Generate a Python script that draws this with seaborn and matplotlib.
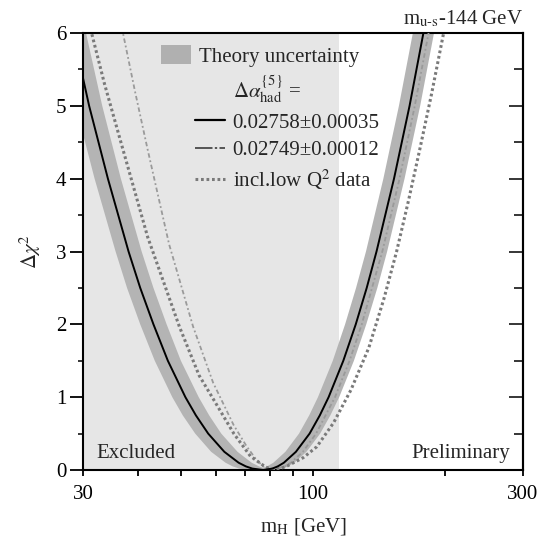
import matplotlib
matplotlib.use('Agg')
import matplotlib.pyplot as plt
import seaborn as sns
from matplotlib.lines import Line2D
from matplotlib.patches import Patch
from matplotlib.ticker import FixedLocator, NullFormatter

sns.set_theme(style='ticks')
plt.rcParams['font.family'] = ['Liberation Serif', 'DejaVu Serif']
plt.rcParams['mathtext.fontset'] = 'stix'

# ---------------- data ----------------
excluded_limit = 114.4      # GeV, LEP direct search limit
x_range = [30, 300]
y_range = [0, 6]

# central fit: da_had = 0.02758 +- 0.00035
solid_x = [27.2, 28.4, 30.9, 34.1, 38.0, 40.4, 43.3, 46.7, 51.2, 54.1, 57.7, 62.8, 67.7,
           70.3, 72.7, 77.0, 80.8, 83.1, 85.8, 91.4, 98.2, 103.6, 108.5, 117.2, 125.1,
           132.5, 139.5, 152.9, 165.9, 178.4, 184.7]
solid_y = [6.5, 6.0, 5.0, 4.0, 3.0, 2.5, 2.0, 1.5, 1.0, 0.75, 0.5, 0.25, 0.1,
           0.05, 0.02, 0.0, 0.02, 0.05, 0.1, 0.25, 0.5, 0.75, 1.0, 1.5, 2.0,
           2.5, 3.0, 4.0, 5.0, 6.0, 6.5]

# theory uncertainty band: outer (lower) edge, then inner (upper) edge
band_lower_x = [25.4, 26.5, 28.8, 31.8, 35.5, 37.7, 40.4, 43.6, 47.8, 50.5, 53.9, 58.6, 63.2,
                65.6, 67.9, 71.9, 81.4, 85.4, 87.8, 90.7, 96.6, 103.8, 109.5, 114.7, 123.9,
                132.2, 140.1, 147.5, 161.6, 175.4, 188.6, 195.2]
band_lower_y = [6.5, 6.0, 5.0, 4.0, 3.0, 2.5, 2.0, 1.5, 1.0, 0.75, 0.5, 0.25, 0.1,
                0.05, 0.02, 0.0, 0.0, 0.02, 0.05, 0.1, 0.25, 0.5, 0.75, 1.0, 1.5,
                2.0, 2.5, 3.0, 4.0, 5.0, 6.0, 6.5]
band_upper_x = [29.1, 30.4, 33.1, 36.5, 40.7, 43.3, 46.4, 50.0, 54.9, 58.0, 61.8, 67.3, 72.5,
                75.3, 77.0, 78.6, 81.2, 86.5, 92.9, 98.0, 102.6, 110.9, 118.3, 125.3,
                132.0, 144.6, 156.9, 168.8, 174.7]
band_upper_y = [6.5, 6.0, 5.0, 4.0, 3.0, 2.5, 2.0, 1.5, 1.0, 0.75, 0.5, 0.25, 0.1,
                0.05, 0.03, 0.05, 0.1, 0.25, 0.5, 0.75, 1.0, 1.5, 2.0, 2.5,
                3.0, 4.0, 5.0, 6.0, 6.5]

# da_had = 0.02749 +- 0.00012
alt_x = [35.9, 36.9, 39.3, 42.0, 47.0, 53.3, 59.2, 65.9, 70.5, 74.3, 77.5, 80.0,
         86.3, 89.0, 94.8, 101.6, 112.2, 121.1, 129.1, 143.8, 157.4, 170.5, 183.3, 189.6]
alt_y = [6.4, 6.0, 5.2, 4.4, 3.1, 1.97, 1.2, 0.62, 0.33, 0.14, 0.035, 0.0,
         0.05, 0.1, 0.25, 0.5, 1.0, 1.5, 2.0, 3.0, 4.0, 5.0, 6.0, 6.5]

# incl. low Q^2 data
lowq_x = [30.3, 31.3, 33.5, 36.9, 42.0, 49.6, 55.0, 60.0, 66.0, 72.0, 78.0, 82.0,
          87.0, 95.0, 102.0, 111.4, 122.0, 134.0, 145.0, 155.0, 165.0, 175.0, 186.0, 197.6, 203.0]
lowq_y = [6.35, 6.0, 5.3, 4.4, 3.2, 1.97, 1.3, 0.92, 0.5, 0.19, 0.04, 0.0,
          0.05, 0.17, 0.32, 0.65, 1.1, 1.68, 2.35, 3.0, 3.7, 4.4, 5.15, 5.95, 6.3]

x_major = [30, 100, 300]
x_minor = [40, 50, 60, 70, 80, 90, 200]
y_major = [0, 1, 2, 3, 4, 5, 6]
y_minor = [0.5, 1.5, 2.5, 3.5, 4.5, 5.5]

label_band = 'Theory uncertainty'
label_da = r'$\Delta\alpha^{\{5\}}_{\rm had}$ ='
label_solid = '0.02758±0.00035'
label_alt = '0.02749±0.00012'
label_lowq = r'incl.low Q$^2$ data'

# ---------------- figure ----------------
FS = 15
fig = plt.figure(figsize=(5.39, 5.42), dpi=100)
ax = fig.add_axes([0.1549, 0.1328, 0.8145, 0.8063])
ax.set_facecolor('white')

ax.axvspan(x_range[0], excluded_limit, color='#e6e6e6', lw=0, zorder=0)

poly_x = band_lower_x + band_upper_x[::-1]
poly_y = band_lower_y + band_upper_y[::-1]
ax.fill(poly_x, poly_y, color='#b4b4b4', lw=0, zorder=1)

sns.lineplot(x=alt_x, y=alt_y, ax=ax, color='#9a9a9a', linewidth=1.3,
             linestyle=(0, (2.5, 1.5, 1, 1.5)), sort=False, estimator=None, zorder=3)
sns.lineplot(x=lowq_x, y=lowq_y, ax=ax, color='#7a7a7a', linewidth=2.2,
             linestyle=(0, (0.9, 0.9)), sort=False, estimator=None, zorder=3)
sns.lineplot(x=solid_x, y=solid_y, ax=ax, color='black', linewidth=1.4,
             sort=False, estimator=None, zorder=4)

ax.set_xscale('log')
ax.set_xlim(x_range)
ax.set_ylim(y_range)
ax.xaxis.set_major_locator(FixedLocator(x_major))
ax.xaxis.set_minor_locator(FixedLocator(x_minor))
ax.set_xticklabels([str(v) for v in x_major])
ax.xaxis.set_minor_formatter(NullFormatter())
ax.yaxis.set_major_locator(FixedLocator(y_major))
ax.yaxis.set_minor_locator(FixedLocator(y_minor))
ax.tick_params(axis='x', which='both', direction='out', length=4.5, width=1.3,
               labelsize=FS, colors='black', pad=6)
ax.tick_params(axis='y', which='major', direction='out', length=9.5, width=1.3,
               labelsize=FS, colors='black', pad=3)
ax.tick_params(axis='y', which='minor', direction='out', length=3.8, width=1.3)
for s in ax.spines.values():
    s.set_linewidth(1.5)
    s.set_color('black')

sec = ax.secondary_yaxis('right')
sec.yaxis.set_major_locator(FixedLocator(y_major))
sec.yaxis.set_minor_locator(FixedLocator(y_minor))
sec.yaxis.set_major_formatter(NullFormatter())
sec.tick_params(axis='y', which='major', direction='in', length=10, width=1.3)
sec.tick_params(axis='y', which='minor', direction='in', length=6.5, width=1.3)
sec.spines['right'].set_linewidth(1.5)

ax.set_xlabel(r'm$_{\rm H}$ [GeV]', fontsize=FS, labelpad=9)
ax.set_ylabel(r'$\Delta\chi^2$', fontsize=FS, labelpad=9)

ax.text(0.03, 0.027, 'Excluded', transform=ax.transAxes, fontsize=FS, ha='left', va='baseline')
ax.text(0.9715, 0.027, 'Preliminary', transform=ax.transAxes, fontsize=FS, ha='right', va='baseline')
ax.text(1.0, 1.008, r'm$_{\rm u\text{-}s}$-144 GeV', transform=ax.transAxes, fontsize=FS,
        ha='right', va='bottom')

# legends
leg1 = ax.legend(handles=[Patch(facecolor='#b0b0b0', edgecolor='none')], labels=[label_band],
                 loc='upper left', bbox_to_anchor=(0.168, 0.981), frameon=False,
                 fontsize=FS, handlelength=1.4, handleheight=1.0, handletextpad=0.4,
                 borderpad=0.2, borderaxespad=0)
ax.add_artist(leg1)
h_blank = Line2D([], [], color='none')
h_solid = Line2D([], [], color='black', lw=1.6)
h_alt = Line2D([], [], color='#555555', lw=1.4, linestyle=(0, (9, 1.2, 1.2, 1.2)))
h_lowq = Line2D([], [], color='#7a7a7a', lw=2.2, linestyle=(0, (0.9, 0.9)))
leg2 = ax.legend(handles=[h_blank, h_solid, h_alt, h_lowq],
                 labels=[label_da, label_solid, label_alt, label_lowq],
                 loc='upper left', bbox_to_anchor=(0.245, 0.917), frameon=False,
                 fontsize=FS, handlelength=1.45, handletextpad=0.35, labelspacing=0.37,
                 borderpad=0.2, borderaxespad=0)

fig.savefig('out.png', dpi=100)
